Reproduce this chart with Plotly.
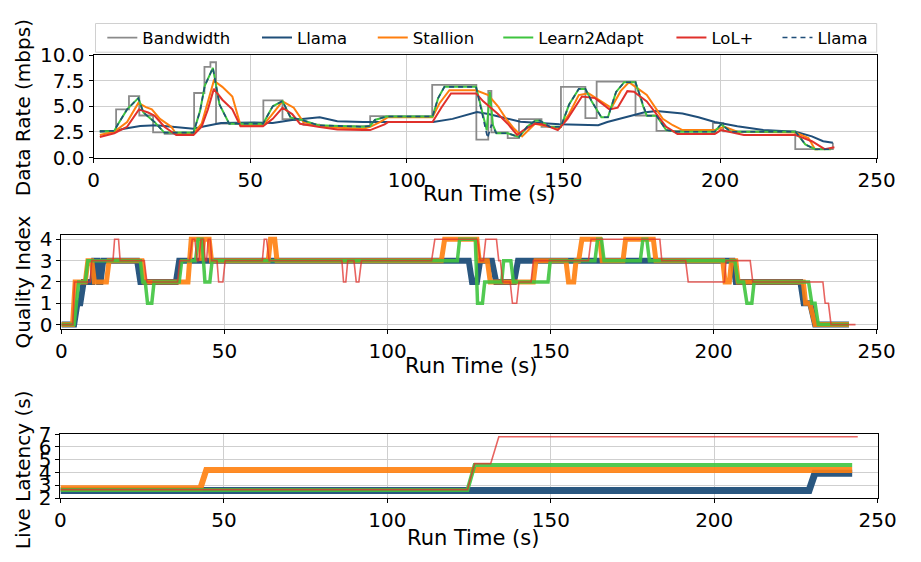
import plotly.graph_objects as go

# ---------------- DATA ----------------
# Panel 1: data rate (mbps)
bw_t = [2, 7.2, 11.3, 14.6, 19, 22.7, 32.1, 35.4, 37.3, 39.1, 54.2, 60.3, 64.1, 67, 72, 88.3, 108.1,
        122.2, 126, 127, 132.2, 135.8, 143, 149.2, 157, 160.6, 173, 179.7, 197.7, 201, 224, 236]
bw_v = [2.5, 4.7, 6.0, 4.1, 2.45, 2.3, 6.3, 8.85, 9.3, 3.3, 5.58, 3.75, 3.65, 3.2, 3.05, 4.05, 7.1,
        1.75, 6.5, 2.45, 1.9, 3.75, 3.0, 6.9, 3.85, 7.4, 4.1, 2.6, 3.35, 2.55, 0.82, 1.45]

llama_t = [2, 6.6, 9.7, 14.9, 20, 25.2, 31.9, 35.5, 40.7, 51.1, 57.2, 63.4, 68, 72.2, 77.8, 86.1, 92.9,
           108.4, 114.6, 122.4, 126, 130, 136.3, 148.7, 161.1, 164, 169.6, 175.6, 179.7, 188, 193.1,
           198.3, 205.5, 213.8, 224.1, 229.3, 232.9, 236]
llama_v = [2.6, 2.6, 2.8, 3.08, 3.15, 3.0, 2.8, 3.05, 3.36, 3.42, 3.36, 3.67, 3.77, 3.93, 3.55, 3.46, 3.46,
           3.46, 3.77, 4.45, 4.24, 3.93, 3.5, 3.24, 3.15, 3.46, 3.93, 4.39, 4.55, 4.3, 3.93,
           3.46, 3.05, 2.68, 2.52, 2.06, 1.59, 1.43]

stallion_t = [2, 6.6, 10.7, 14.3, 16.7, 18.6, 21.2, 24.8, 26.4, 31.9, 34.5, 36.5, 38.4, 41.1, 44.3, 46.9,
              54.1, 56.7, 60.3, 63.9, 67, 71.7, 77.8, 86.1, 88.3, 91.4, 94, 108.2, 110.5, 113.6, 122.1,
              126, 129.1, 131.7, 134.2, 136.8, 138.8, 140.9, 145.6, 148.7, 151.8, 154.9, 158, 162.1,
              165.3, 168.3, 170.9, 173, 176.6, 179.7, 181.7, 184.9, 188, 198.3, 201.4, 205.5, 224.1,
              228.2, 230.3, 231.3]
stallion_v = [2.2, 2.52, 3.46, 5.33, 4.92, 4.7, 3.77, 3.0, 2.3, 2.3, 3.3, 5.48, 7.5, 6.9, 5.95, 3.15,
              3.15, 4.08, 5.48, 4.86, 3.46, 3.15, 2.9, 2.8, 3.0, 3.46, 3.93, 3.93, 5.33, 6.57, 6.57,
              6.1, 5.0, 3.77, 2.83, 2.06, 2.68, 3.3, 3.0, 2.83, 4.24, 6.1, 6.26, 5.5,
              4.86, 6.5, 7.35, 6.9, 6.1, 4.7, 3.77, 3.15, 2.68, 2.68, 3.0, 2.52, 2.43,
              1.9, 0.81, 0.81]

l2a_t = [2, 6.6, 7.6, 10.7, 14.3, 15.9, 19.5, 22.6, 31.9, 34, 35.5, 38.1, 40.2, 43.3, 54.1, 57.2, 60.3,
         62.9, 66.5, 71.7, 86, 88.3, 89.8, 93.5, 108.2, 110, 112, 122.1, 125.5, 126.5, 127.5, 128.6,
         132.2, 135.8, 138.4, 141, 142.5, 145.6, 149.2, 151.8, 154.9, 157, 159, 162.1, 164.2, 166.8,
         169.4, 173, 175.6, 176.6, 179.7, 182.8, 185.9, 198.3, 200.3, 203.4, 224.1, 227.2, 230.3, 235.4]
l2a_v = [2.55, 2.6, 3.15, 4.7, 5.8, 4.4, 3.45, 2.43, 2.43, 4.55, 7.0, 8.75, 5.17, 3.3, 3.3, 5.0, 5.5,
         3.9, 3.67, 3.15, 3.0, 3.08, 3.67, 4.0, 4.0, 5.8, 6.9, 6.9, 2.68, 6.4, 3.15, 2.37,
         2.37, 2.0, 3.0, 3.6, 3.6, 3.0, 3.0, 5.17, 6.7, 6.7, 5.5, 3.93, 3.93, 6.4,
         7.35, 7.35, 4.86, 4.08, 4.08, 2.68, 2.52, 2.52, 3.24, 2.52, 2.52, 1.28, 0.81, 0.81]

llama2_t = [2, 6.6, 7.6, 10.7, 14.3, 15.9, 19.5, 22.6, 31.9, 34, 35.5, 38.1, 40.2, 43.3, 54.1, 57.2, 60.3,
            62.9, 66.5, 71.7, 86, 88.3, 89.8, 93.5, 108.2, 110, 112, 122.1, 125.8, 127, 128.6,
            132.2, 135.8, 138.4, 141, 142.5, 145.6, 149.2, 151.8, 154.9, 157, 159, 162.1, 164.2, 166.8,
            169.4, 173, 175.6, 176.6, 179.7, 182.8, 185.9, 198.3, 200.3, 203.4, 224.1, 227.2, 230.3, 235.4]
llama2_v = [2.55, 2.6, 3.15, 4.7, 5.8, 4.4, 3.45, 2.43, 2.43, 4.55, 7.0, 8.75, 5.17, 3.3, 3.3, 5.0, 5.5,
            3.9, 3.67, 3.15, 3.0, 3.08, 3.67, 4.0, 4.0, 5.8, 6.9, 6.9, 1.9, 3.2, 2.37,
            2.37, 2.0, 3.0, 3.6, 3.6, 3.0, 3.0, 5.17, 6.7, 6.7, 5.5, 3.93, 3.93, 6.4,
            7.35, 7.35, 4.86, 4.08, 4.08, 2.68, 2.52, 2.52, 3.24, 2.52, 2.52, 1.28, 0.81, 0.81]

lol_t = [2, 6.6, 10.7, 14.5, 17.4, 19.5, 22.6, 26.4, 31.9, 34.5, 36.5, 38.4, 41.1, 44.3, 46.9, 54.1,
         57.2, 60.3, 63.4, 65.9, 71.7, 77.8, 86.1, 88.3, 92.9, 94, 108.2, 111, 114.1, 122.1, 124.4,
         129.1, 132.2, 135.2, 137.3, 140.9, 143, 145.6, 148.2, 151.3, 155.9, 160.1, 164.7, 167.3,
         170.4, 172.5, 176.6, 179.7, 182.8, 186.4, 198.3, 200.3, 207.6, 224.1, 229.3, 233.4, 236.5]
lol_v = [2.0, 2.37, 3.0, 4.7, 4.39, 4.08, 3.0, 2.2, 2.2, 3.0, 4.7, 6.7, 5.64, 4.7, 3.05, 3.05,
         3.77, 4.86, 4.24, 3.3, 3.0, 2.74, 2.68, 2.68, 3.24, 3.46, 3.46, 4.86, 6.26, 6.26, 5.48,
         4.24, 3.3, 2.2, 2.68, 3.3, 3.24, 3.0, 2.68, 3.77, 5.95, 5.8, 4.7, 4.86,
         6.48, 6.42, 5.48, 4.24, 3.0, 2.3, 2.3, 2.68, 2.2, 2.2, 1.59, 0.81, 1.0]

# Panel 2: quality index
q_llama_t = [0, 3.9, 4.9, 5.8, 6.8, 9.5, 10.0, 11.0, 11.5, 12.0, 12.8, 23.2, 24.2, 35.1, 36.1,
             124.9, 125.9, 127.4, 128.4, 132.0, 133.3, 138.8, 140.0, 205.8, 206.8, 226.6, 227.6,
             229.6, 231.1, 241.5]
q_llama_v = [0, 0, 1, 1, 2, 2, 3, 3, 2, 2, 3, 3, 2, 2, 3,
             3, 2, 2, 3, 3, 2, 2, 3, 3, 2, 2, 1,
             1, 0, 0]

q_stallion_t = [0, 3.4, 4.2, 7.3, 8.1, 9.3, 10.1, 13.8, 14.6, 24.7, 25.5, 38.8, 39.8, 42.3, 43.0,
                43.6, 45.3, 46.0, 63.4, 64.1, 65.4, 66.1, 116.5, 117.5, 127.4, 128.1, 130.6, 131.5,
                144.7, 145.5, 154.7, 155.5, 157.1, 157.8, 158.6, 159.6, 165.1, 165.8, 172.2, 173.0,
                181.5, 182.3, 202.8, 203.5, 204.8, 205.5, 206.8, 207.5, 227.5, 228.2, 229.5, 231.1,
                241.5]
q_stallion_v = [0, 0, 2, 2, 3, 3, 2, 2, 3, 3, 2, 2, 4, 4, 3,
                4, 4, 3, 3, 4, 4, 3, 3, 4, 4, 3, 3, 2,
                2, 3, 3, 2, 2, 3, 3, 4, 4, 3, 3, 4,
                4, 3, 3, 2, 2, 3, 3, 2, 2, 1, 1, 0,
                0]

q_l2a_t = [0, 3.9, 5.3, 7.3, 8.1, 24.2, 24.9, 25.7, 26.4, 27.7, 28.4, 36.1, 36.9, 41.1, 41.9, 43.1,
           44.0, 45.5, 46.2, 121.4, 122.1, 126.9, 127.6, 129.1, 129.8, 135.0, 135.6, 137.8, 138.6,
           149.2, 149.9, 163.6, 164.4, 165.6, 166.4, 177.5, 178.3, 179.5, 180.3, 206.5, 207.5,
           209.2, 210.2, 211.7, 212.4, 229.1, 230.1, 231.1, 232.1, 241.5]
q_l2a_v = [0, 0, 2, 2, 3, 3, 2, 2, 1, 1, 2, 2, 3, 3, 4, 4,
           2, 2, 3, 3, 4, 4, 1, 1, 2, 2, 3, 3, 2,
           2, 3, 3, 4, 4, 3, 3, 4, 4, 3, 3, 2,
           2, 1, 1, 2, 2, 1, 1, 0, 0]

q_lol_t = [0, 3.5, 4.0, 8.8, 9.3, 15.8, 16.3, 17.5, 18.0, 25.4, 26.2, 35.6, 36.3, 39.3, 40.1, 40.9,
           41.6, 42.1, 42.8, 43.6, 44.1, 44.5, 45.0, 45.6, 46.1, 47.7, 48.2, 49.5, 50.2, 61.6, 62.2,
           62.9, 63.7, 86.0, 86.5, 87.2, 87.8, 89.7, 90.4, 91.2, 92.0, 113.5, 114.5, 127.6, 128.4,
           129.4, 130.1, 133.4, 134.1, 134.6, 135.3, 137.6, 138.3, 139.6, 140.3, 144.0, 144.7,
           161.6, 162.4, 183.5, 184.1, 191.4, 192.2, 203.3, 203.8, 211.2, 212.0, 233.5, 234.2,
           235.2, 236.0, 243.5]
q_lol_v = [0, 0, 2, 2, 3, 3, 4, 4, 3, 3, 2, 2, 3, 3, 4, 4,
           3, 3, 4, 4, 3, 3, 4, 4, 3, 3, 2, 2, 3, 3, 4,
           4, 3, 3, 2, 2, 3, 3, 2, 2, 3, 3, 4, 4, 3,
           3, 4, 4, 3, 3, 2, 2, 1, 1, 2, 2, 3,
           3, 4, 4, 3, 3, 2, 2, 3, 3, 2, 2, 1,
           1, 0, 0]

# Panel 3: live latency (s)
lat_llama_t = [0, 229.0, 230.8, 242.2]
lat_llama_v = [2.6, 2.6, 3.95, 3.95]
lat_stallion_t = [0, 42.8, 44.6, 242.2]
lat_stallion_v = [2.78, 2.78, 4.2, 4.2]
lat_l2a_t = [0, 124.5, 126.7, 242.2]
lat_l2a_v = [2.65, 2.65, 4.6, 4.6]
lat_lol_t = [0, 124.5, 126.7, 131.6, 134.1, 243.9]
lat_lol_v = [2.68, 2.68, 4.7, 4.7, 6.8, 6.8]

x_ticks = [0, 50, 100, 150, 200, 250]
rate_ticks = [0, 2.5, 5, 7.5, 10]
quality_ticks = [0, 1, 2, 3, 4]
latency_ticks = [2, 3, 4, 5, 6, 7]

names = ["Bandwidth", "Llama", "Stallion", "Learn2Adapt", "LoL+", "Llama"]

for a, b in [(bw_t, bw_v), (llama_t, llama_v), (stallion_t, stallion_v), (l2a_t, l2a_v),
             (llama2_t, llama2_v), (lol_t, lol_v), (q_llama_t, q_llama_v),
             (q_stallion_t, q_stallion_v), (q_l2a_t, q_l2a_v), (q_lol_t, q_lol_v)]:
    assert len(a) == len(b), (len(a), len(b), a[:3])

# ---------------- STYLE ----------------
W, H = 921, 562
def px(x): return x / W
def py(y): return 1 - y / H

C_BW = "#8a8a8a"
C_LLAMA = "#1f4e79"
C_ST = "#ff7f0e"
C_L2A = "#3fc43f"
C_LOL = "#e0302b"

def rgba(hexc, a):
    h = hexc.lstrip("#")
    return "rgba(%d,%d,%d,%.2f)" % (int(h[0:2], 16), int(h[2:4], 16), int(h[4:6], 16), a)

fig = go.Figure()

# Panel 1
fig.add_trace(go.Scatter(x=bw_t, y=bw_v, mode="lines", line=dict(color=C_BW, width=1.8, shape="hv"),
                         name=names[0], xaxis="x", yaxis="y", legend="legend"))
fig.add_trace(go.Scatter(x=llama_t, y=llama_v, mode="lines", line=dict(color=C_LLAMA, width=2),
                         name=names[1], xaxis="x", yaxis="y", legend="legend2"))
fig.add_trace(go.Scatter(x=stallion_t, y=stallion_v, mode="lines", line=dict(color=C_ST, width=2),
                         name=names[2], xaxis="x", yaxis="y", legend="legend3"))
fig.add_trace(go.Scatter(x=l2a_t, y=l2a_v, mode="lines", line=dict(color=C_L2A, width=2),
                         name=names[3], xaxis="x", yaxis="y", legend="legend4"))
fig.add_trace(go.Scatter(x=lol_t, y=lol_v, mode="lines", line=dict(color=C_LOL, width=2),
                         name=names[4], xaxis="x", yaxis="y", legend="legend5"))
fig.add_trace(go.Scatter(x=llama2_t, y=llama2_v, mode="lines", line=dict(color=C_LLAMA, width=1.6, dash="5px,4px"),
                         name=names[5], xaxis="x", yaxis="y", legend="legend6"))

# Panel 2
fig.add_trace(go.Scatter(x=q_llama_t, y=q_llama_v, mode="lines", line=dict(color=rgba(C_LLAMA, 0.95), width=6),
                         showlegend=False, xaxis="x2", yaxis="y2"))
fig.add_trace(go.Scatter(x=q_stallion_t, y=q_stallion_v, mode="lines", line=dict(color=rgba(C_ST, 0.9), width=5),
                         showlegend=False, xaxis="x2", yaxis="y2"))
fig.add_trace(go.Scatter(x=q_l2a_t, y=q_l2a_v, mode="lines", line=dict(color=rgba(C_L2A, 0.9), width=3.5),
                         showlegend=False, xaxis="x2", yaxis="y2"))
fig.add_trace(go.Scatter(x=q_lol_t, y=q_lol_v, mode="lines", line=dict(color=rgba(C_LOL, 0.75), width=1.6),
                         showlegend=False, xaxis="x2", yaxis="y2"))

# Panel 3
fig.add_trace(go.Scatter(x=lat_llama_t, y=lat_llama_v, mode="lines", line=dict(color=rgba(C_LLAMA, 0.95), width=7),
                         showlegend=False, xaxis="x3", yaxis="y3"))
fig.add_trace(go.Scatter(x=lat_stallion_t, y=lat_stallion_v, mode="lines", line=dict(color=rgba(C_ST, 0.9), width=6),
                         showlegend=False, xaxis="x3", yaxis="y3"))
fig.add_trace(go.Scatter(x=lat_l2a_t, y=lat_l2a_v, mode="lines", line=dict(color=rgba(C_L2A, 0.9), width=4),
                         showlegend=False, xaxis="x3", yaxis="y3"))
fig.add_trace(go.Scatter(x=lat_lol_t, y=lat_lol_v, mode="lines", line=dict(color=rgba(C_LOL, 0.75), width=1.6),
                         showlegend=False, xaxis="x3", yaxis="y3"))

TICKFONT = dict(family="DejaVu Sans", size=20, color="black")
common = dict(showline=True, linecolor="black", linewidth=1, mirror=True, ticks="outside", ticklen=4,
              tickcolor="black", showgrid=True, gridcolor="#cfcfcf", gridwidth=1, zeroline=False,
              tickfont=TICKFONT)

fig.update_layout(
    width=W, height=H, margin=dict(l=0, r=0, t=0, b=0),
    plot_bgcolor="white", paper_bgcolor="white",
    font=dict(family="DejaVu Sans", size=20, color="black"),
    xaxis=dict(domain=[px(90), px(895)], anchor="y", range=[0, 250], tickvals=x_ticks, **common),
    yaxis=dict(domain=[py(152), py(45)], anchor="x", range=[0, 10], tickvals=rate_ticks,
               ticktext=["%.1f" % v for v in rate_ticks], **common),
    xaxis2=dict(domain=[px(57), px(895)], anchor="y2", range=[0, 250], tickvals=x_ticks, **common),
    yaxis2=dict(domain=[py(331), py(233)], anchor="x2", range=[-0.2, 4.2], tickvals=quality_ticks, **common),
    xaxis3=dict(domain=[px(56), px(896)], anchor="y3", range=[0, 250], tickvals=x_ticks, **common),
    yaxis3=dict(domain=[py(508), py(441)], anchor="x3", range=[2, 7], tickvals=latency_ticks, **common),
)

# Legends (one per entry to reproduce spacing), inside a single frame
leg_x = [99, 258, 377, 506, 684, 793]
leg_keys = ["legend", "legend2", "legend3", "legend4", "legend5", "legend6"]
for k, xx in zip(leg_keys, leg_x):
    fig.update_layout(**{k: dict(x=px(xx), y=py(27), xanchor="left", yanchor="middle",
                                 orientation="h", bgcolor="rgba(0,0,0,0)", borderwidth=0,
                                 font=dict(family="DejaVu Sans", size=16.5, color="black"),
                                 itemwidth=30)})

fig.add_shape(type="rect", xref="paper", yref="paper", x0=px(92), x1=px(895), y0=py(42), y1=py(12),
              line=dict(color="#d0d0d0", width=1), fillcolor="white", layer="below")

# Axis titles
ann = [
    dict(text="Run Time (s)", x=px(496), y=py(190), textangle=0, size=21),
    dict(text="Run Time (s)", x=px(478), y=py(370), textangle=0, size=21),
    dict(text="Run Time (s)", x=px(480), y=py(549), textangle=0, size=21),
    dict(text="Data Rate (mbps)", x=px(17), y=py(100), textangle=-90, size=20),
    dict(text="Quality Index", x=px(17), y=py(282), textangle=-90, size=20),
    dict(text="Live Latency (s)", x=px(17), y=py(478), textangle=-90, size=20),
]
for a in ann:
    sz = a.pop("size")
    fig.add_annotation(xref="paper", yref="paper", showarrow=False,
                       font=dict(family="DejaVu Sans", size=sz, color="black"),
                       xanchor="center", yanchor="middle", **a)

fig.write_html("out.html")
